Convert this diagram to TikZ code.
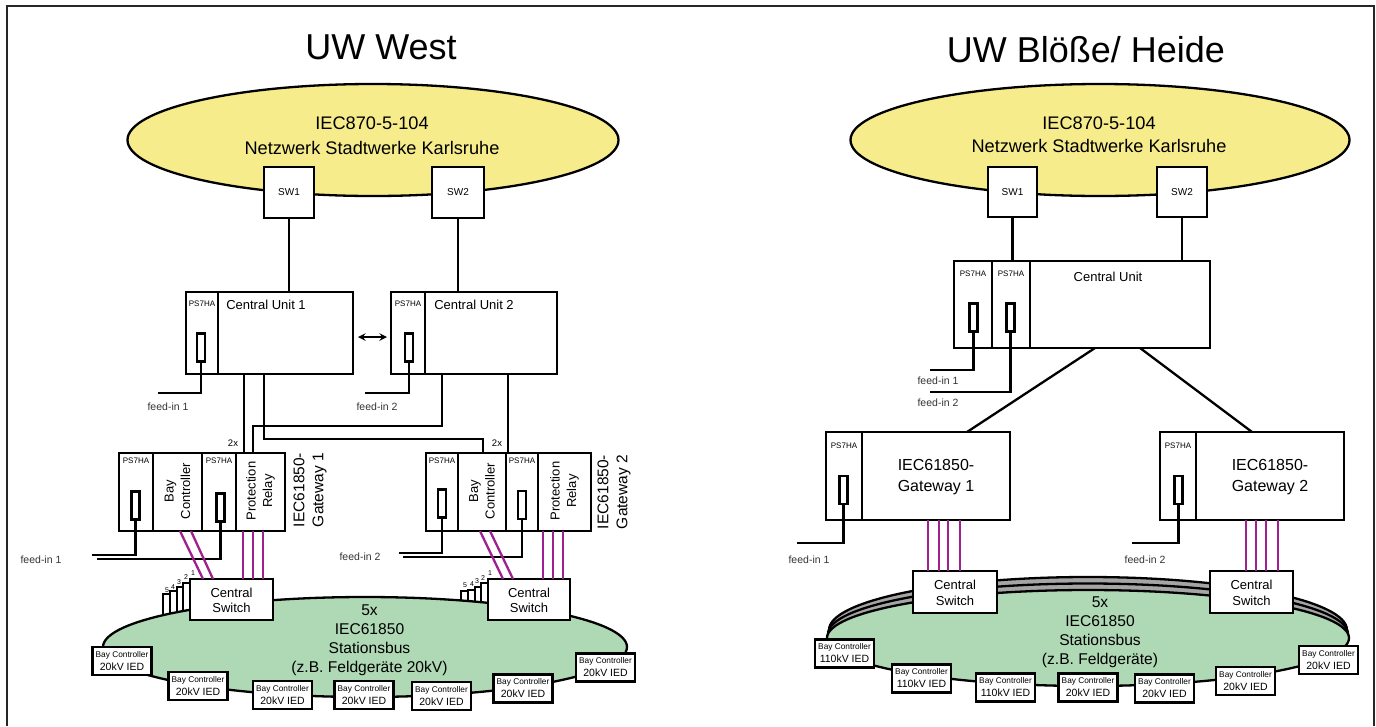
\documentclass[tikz,border=0pt]{standalone}
\usepackage{fontspec}
\setmainfont{Liberation Sans}
\usetikzlibrary{positioning,calc,shapes.geometric}
\definecolor{netyellow}{RGB}{247,236,140}
\definecolor{busgreen}{RGB}{175,217,181}
\definecolor{buspurple}{RGB}{160,32,143}
\definecolor{ringgray}{RGB}{165,165,165}
\newcommand{\iedtext}[1]{{\fontsize{8.3}{10}\selectfont Bay Controller}\\[1pt]{\fontsize{10.5}{12}\selectfont #1}}
\tikzset{
  box/.style={draw, line width=2.3pt, fill=white, inner sep=0pt, outer sep=0pt, anchor=north west},
  slot/.style={draw, line width=2.1pt, fill=white, inner sep=0pt, outer sep=0pt, minimum width=8pt, minimum height=28pt},
  ring/.style={draw, line width=2.3pt, ellipse, inner sep=0pt, outer sep=0pt},
  ied/.style={draw, line width=2.3pt, fill=white, inner sep=0pt, outer sep=0pt, minimum width=59pt, minimum height=28pt, align=center},
  wire/.style={line width=2.3pt},
  bus/.style={line width=2.3pt, buspurple},
  tag/.style={inner sep=0pt, font=\fontsize{8}{9}\selectfont},
  feed/.style={inner sep=0pt, black!80, font=\fontsize{10.5}{12}\selectfont},
  title/.style={inner sep=0pt, font=\fontsize{36}{40}\selectfont},
  netlabel/.style={inner sep=0pt, align=center, font=\fontsize{18.2}{24}\selectfont},
  swlabel/.style={inner sep=0pt, align=center, font=\fontsize{13}{15.7}\selectfont},
  baylabel/.style={inner sep=0pt, align=center, font=\fontsize{13}{16.5}\selectfont},
  gwlabel/.style={inner sep=0pt, align=center, font=\fontsize{16}{21}\selectfont},
  gwside/.style={inner sep=0pt, align=center, font=\fontsize{15.5}{19}\selectfont},
  stationlabel/.style={inner sep=0pt, align=center, font=\fontsize{15.6}{19}\selectfont}
}
\begin{document}
\begin{tikzpicture}[x=1pt,y=-1pt]
  \useasboundingbox (0,0) rectangle (1376,726);
  \draw[line width=2.8pt, black!85] (7,726) -- (7,6) -- (1374,6) -- (1374,726);

  \node[title] (titleW) at (381,47) {UW West};
  \node[title] (titleB) at (1086,50) {UW Blöße/ Heide};

  % West
  \node[ring, fill=netyellow, minimum width=491pt, minimum height=112pt] (netW) at (373,140) {};
  \node[netlabel, font=\fontsize{18.2}{25}\selectfont] (netWt) at (372,135.5) {IEC870-5-104\\Netzwerk Stadtwerke Karlsruhe};
  \node[box, minimum width=50pt, minimum height=51pt, font=\fontsize{10}{12}\selectfont] (swWa) at (264,167) {SW1};
  \node[box, minimum width=52pt, minimum height=51pt, font=\fontsize{10}{12}\selectfont] (swWb) at (432,167) {SW2};

  \node[box, minimum width=32pt, minimum height=82pt] (cua) at (186,292) {};
  \node[box, minimum width=135pt, minimum height=82pt, right=0pt of cua] (cuam) {};
  \node[box, minimum width=34pt, minimum height=82pt] (cub) at (391,292) {};
  \node[box, minimum width=132pt, minimum height=82pt, right=0pt of cub] (cubm) {};
  \node[tag, below=9pt of cua.north] (cuat) {PS7HA};
  \node[tag, below=9pt of cub.north] (cubt) {PS7HA};
  \node[inner sep=0pt, font=\fontsize{13}{15}\selectfont] (cuatxt) at (266,305) {Central Unit 1};
  \node[inner sep=0pt, font=\fontsize{13}{15}\selectfont] (cubtxt) at (474,305) {Central Unit 2};
  \node[slot] (sa) at (201,347.5) {};
  \node[slot] (sb) at (409,347.5) {};
  \draw[wire] (swWa) -- (swWa |- cuam.north);
  \draw[wire] (swWb) -- (swWb |- cubm.north);
  \draw[wire, <->, >=stealth, shorten <=5pt, shorten >=4pt] (cuam.east) ++(0,4) -- ++(38,0);

  \coordinate (fa) at (158,393);
  \coordinate (fb) at (365,393);
  \draw[wire] (sa.south) -- (sa.south |- fa) -- (fa);
  \draw[wire] (sb.south) -- (sb.south |- fb) -- (fb);
  \node[feed] (fat) at (168,407) {feed-in 1};
  \node[feed] (fbt) at (377,407) {feed-in 2};

  \node[box, minimum width=34pt, minimum height=78pt] (ga) at (119,453) {};
  \node[box, minimum width=49pt, minimum height=78pt, right=0pt of ga] (gab) {};
  \node[box, minimum width=34pt, minimum height=78pt, right=0pt of gab] (gac) {};
  \node[box, minimum width=49pt, minimum height=78pt, right=0pt of gac] (gar) {};
  \node[box, minimum width=32pt, minimum height=78pt] (gb) at (426,453) {};
  \node[box, minimum width=48pt, minimum height=78pt, right=0pt of gb] (gbb) {};
  \node[box, minimum width=32pt, minimum height=78pt, right=0pt of gbb] (gbc) {};
  \node[box, minimum width=53pt, minimum height=78pt, right=0pt of gbc] (gbr) {};
  \foreach \c in {ga,gac,gb,gbc}
    \node[tag, below=5pt of \c.north] (\c t) {PS7HA};
  \foreach \c in {gab,gbb}
    \node[baylabel, rotate=90, xshift=1pt] (\c t) at (\c) {Bay\\Controller};
  \foreach \c in {gar,gbr}
    \node[baylabel, rotate=90, xshift=1pt] (\c t) at (\c) {Protection\\Relay};
  \node[gwside, rotate=90] (gat) at (310,490) {IEC61850-\\Gateway 1};
  \node[gwside, rotate=90] (gbt) at (614,492) {IEC61850-\\Gateway 2};
  \node[slot] (sc) at (135.5,505.5) {};
  \node[slot] (sd) at (220.5,507.5) {};
  \node[slot] (se) at (442,503.5) {};
  \node[slot] (sf) at (522,505) {};

  \coordinate (ta) at (244,453);
  \coordinate (tb) at (253,453);
  \coordinate (rb) at (442,426);
  \coordinate (rc) at (264,439);
  \coordinate (td) at (483,453);
  \coordinate (te) at (508,453);
  \draw[wire] (ta |- cuam.south) -- (ta);
  \draw[wire] (tb) |- (rb) -- (rb |- cubm.south);
  \draw[wire] (rc |- cuam.south) -- (rc) -| (td);
  \draw[wire] (te |- cubm.south) -- (te);
  \node[inner sep=0pt, font=\fontsize{9.5}{11}\selectfont] (xa) at (233,443) {2x};
  \node[inner sep=0pt, font=\fontsize{9.5}{11}\selectfont] (xb) at (497,443) {2x};

  \coordinate (fc) at (92,555);
  \coordinate (fd) at (97,559);
  \coordinate (fe) at (399,553);
  \coordinate (ff) at (403,557);
  \draw[wire] (sc.south) -- (sc.south |- fc) -- (fc);
  \draw[wire] (sd.south) -- (sd.south |- fd) -- (fd);
  \draw[wire] (se.south) -- (se.south |- fe) -- (fe);
  \draw[wire] (sf.south) -- (sf.south |- ff) -- (ff);
  \node[feed] (fct) at (41,560) {feed-in 1};
  \node[feed] (fet) at (360,557) {feed-in 2};

  \foreach \n/\x/\t/\lx/\ly in {5/163/594/167/590,4/170/591/173/587,3/177/587/179/582,2/183/583/186/577,1/190/579/193/573}{
    \node[box, minimum width=7pt, minimum height=36pt] (pa\n) at (\x,\t) {};
    \node[inner sep=0pt, font=\fontsize{7}{8}\selectfont] (pat\n) at (\lx,\ly) {\n};
  }
  \foreach \n/\x/\t/\lx/\ly in {5/461/591/465/585,4/468/590/472/584,3/475/587/477/581,2/481/583/483/578,1/488/579/490/573}{
    \node[box, minimum width=7pt, minimum height=26pt] (pb\n) at (\x,\t) {};
    \node[inner sep=0pt, font=\fontsize{7}{8}\selectfont] (pbt\n) at (\lx,\ly) {\n};
  }
  \node[ring, fill=busgreen, minimum width=524pt, minimum height=100pt] (stW) at (365,647) {};
  \node[stationlabel] (stWt) at (369.5,640.5) {5x\\IEC61850\\Stationsbus\\(z.B. Feldgeräte 20kV)};

  \node[box, minimum width=83pt, minimum height=41pt] (csa) at (190,579) {};
  \node[box, minimum width=82pt, minimum height=41pt] (csb) at (488,579) {};
  \draw[bus] ($(gab.south)+(2.5,0)$) -- ($(csa.north)+(-28.5,0)$);
  \draw[bus] ($(gab.south)+(13.5,0)$) -- ($(csa.north)+(-18.5,0)$);
  \foreach \d in {-17.5,-7.5,2.5}
    \draw[bus] ($(gar.south)+(\d,0)$) -- ($(csa.north)+(\d+29,0)$);
  \draw[bus] ($(gbb.south)+(-2,0)$) -- ($(csb.north)+(-26,0)$);
  \draw[bus] ($(gbb.south)+(8,0)$) -- ($(csb.north)+(-16,0)$);
  \foreach \d in {-21.5,-11.5,-1.5}
    \draw[bus] ($(gbr.south)+(\d,0)$) -- ($(csb.north)+(\d+35.5,0)$);

  \foreach \n/\x/\y in {1/122/661,2/198/686,3/282.5/695,4/364/695,5/441.5/696,6/523/688.5,7/605.5/667.5}
    \node[ied] (iedW\n) at (\x,\y) {\iedtext{20kV IED}};

  % Bloesse / Heide
  \node[ring, fill=netyellow, minimum width=499pt, minimum height=112pt] (netB) at (1100,140) {};
  \node[netlabel, font=\fontsize{18.2}{23}\selectfont] (netBt) at (1099,134.5) {IEC870-5-104\\Netzwerk Stadtwerke Karlsruhe};
  \node[box, minimum width=49pt, minimum height=50pt, font=\fontsize{10}{12}\selectfont] (swBa) at (988,167) {SW1};
  \node[box, minimum width=50pt, minimum height=50pt, font=\fontsize{10}{12}\selectfont] (swBb) at (1157,167) {SW2};

  \node[box, minimum width=38pt, minimum height=87pt] (cuc) at (954,261) {};
  \node[box, minimum width=38pt, minimum height=87pt, right=0pt of cuc] (cud) {};
  \node[box, minimum width=180pt, minimum height=87pt, right=0pt of cud] (cucm) {};
  \node[tag, below=10pt of cuc.north] (cuct) {PS7HA};
  \node[tag, below=10pt of cud.north] (cudt) {PS7HA};
  \node[inner sep=0pt, font=\fontsize{13}{15}\selectfont] (cuctxt) at (1108,277) {Central Unit};
  \node[slot] (sg) at (973.5,317.5) {};
  \node[slot] (sh) at (1010.5,317.5) {};
  \draw[wire] (swBa) -- (swBa |- cucm.north);
  \draw[wire] (swBb) -- (swBb |- cucm.north);
  \coordinate (fg) at (930,370);
  \coordinate (fh) at (930,392);
  \draw[wire] (sg.south) -- (sg.south |- fg) -- (fg);
  \draw[wire] (sh.south) -- (sh.south |- fh) -- (fh);
  \node[feed] (fgt) at (938,381) {feed-in 1};
  \node[feed] (fht) at (938,403) {feed-in 2};

  \node[box, minimum width=36pt, minimum height=88pt] (gc) at (826,432) {};
  \node[box, minimum width=148pt, minimum height=88pt, right=0pt of gc] (gcm) {};
  \node[box, minimum width=36pt, minimum height=88pt] (gd) at (1160,432) {};
  \node[box, minimum width=148pt, minimum height=88pt, right=0pt of gd] (gdm) {};
  \node[gwlabel, yshift=-1.5pt] (gcmt) at (gcm) {IEC61850-\\Gateway 1};
  \node[gwlabel, yshift=-1.5pt] (gdmt) at (gdm) {IEC61850-\\Gateway 2};
  \node[tag, below=11pt of gc.north] (gct) {PS7HA};
  \node[tag, below=11pt of gd.north] (gdt) {PS7HA};
  \node[slot] (si) at (843.5,490) {};
  \node[slot] (sj) at (1178.5,490) {};
  \draw[wire] ($(cucm.south)+(-25,0)$) -- ($(gcm.north)+(31,0)$);
  \draw[wire] ($(cucm.south)+(20,0)$) -- ($(gdm.north)+(-18,0)$);
  \coordinate (fi) at (797,543);
  \coordinate (fj) at (1132,543);
  \draw[wire] (si.south) -- (si.south |- fi) -- (fi);
  \draw[wire] (sj.south) -- (sj.south |- fj) -- (fj);
  \node[feed] (fit) at (809,560) {feed-in 1};
  \node[feed] (fjt) at (1145,560) {feed-in 2};

  \node[ring, fill=ringgray, minimum width=518pt, minimum height=106pt] (rgo) at (1088,630) {};
  \node[ring, fill=ringgray, minimum width=520pt, minimum height=101pt] (rgm) at (1088,634) {};
  \node[ring, fill=busgreen, minimum width=522pt, minimum height=96pt] (stB) at (1088,638) {};
  \node[stationlabel] (stBt) at (1100,632.5) {5x\\IEC61850\\Stationsbus\\(z.B. Feldgeräte)};

  \node[box, minimum width=84pt, minimum height=42pt] (csc) at (913,571) {};
  \node[box, minimum width=83pt, minimum height=42pt] (csd) at (1210,571) {};
  \foreach \c in {csa,csb,csc,csd}
    \node[swlabel, yshift=-0.8pt] (\c t) at (\c) {Central\\Switch};
  \foreach \d in {-8,3,12,24}
    \draw[bus] ($(gcm.south)+(\d,0)$) -- ($(csc.north)+(\d-19,0)$);
  \foreach \d in {-24,-14,-4,8}
    \draw[bus] ($(gdm.south)+(\d,0)$) -- ($(csd.north)+(\d+18.5,0)$);

  \foreach \n/\x/\y/\v in {1/844.5/653.5/110kV IED,2/921.5/678.5/110kV IED,3/1005.5/687.5/110kV IED,4/1088/687.5/20kV IED,5/1164.5/688.5/20kV IED,6/1245.5/681/20kV IED,7/1328.5/660/20kV IED}
    \node[ied] (iedB\n) at (\x,\y) {\iedtext{\v}};
\end{tikzpicture}
\end{document}
